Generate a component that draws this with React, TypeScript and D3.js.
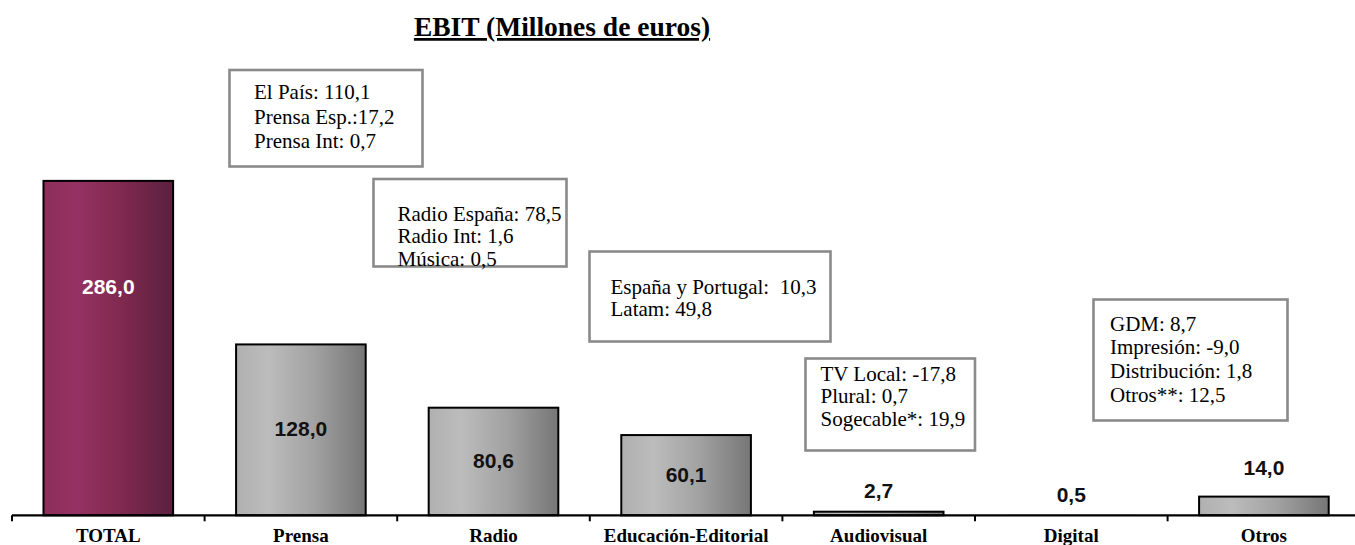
import React from 'react';
import * as d3 from 'd3';

const categories = ['TOTAL', 'Prensa', 'Radio', 'Educación-Editorial', 'Audiovisual', 'Digital', 'Otros'];
const ebitValues = [286.0, 128.0, 80.6, 60.1, 2.7, 0.5, 14.0];
// bar lengths as they are drawn in the picture (the TOTAL bar is drawn shorter than its value)
const barValues = [250.5, 128.0, 80.6, 60.1, 2.7, 0.5, 14.0];

const breakdownPrensa = ['El País: 110,1', 'Prensa Esp.:17,2', 'Prensa Int: 0,7'];
const breakdownRadio = ['Radio España: 78,5', 'Radio Int: 1,6', 'Música: 0,5'];
const breakdownEducacion = ['España y Portugal:  10,3', 'Latam: 49,8'];
const breakdownAudiovisual = ['TV Local: -17,8', 'Plural: 0,7', 'Sogecable*: 19,9'];
const breakdownOtros = ['GDM: 8,7', 'Impresión: -9,0', 'Distribución: 1,8', 'Otros**: 12,5'];

const title = 'EBIT (Millones de euros)';

const W = 1355;
const H = 545;
const AXIS_Y = 515.3;
const X0 = 12;
const STEP = 192.6;

const boxLayout = [
  { lines: breakdownPrensa, x: 229.5, y: 70, w: 193, h: 96.5, tx: 254, base: 99, lh: 24.6 },
  { lines: breakdownRadio, x: 373.5, y: 179, w: 193, h: 87.5, tx: 397.5, base: 220.5, lh: 22.6 },
  { lines: breakdownEducacion, x: 589.5, y: 251.5, w: 241, h: 90, tx: 610.5, base: 293.5, lh: 22.7 },
  { lines: breakdownAudiovisual, x: 805.5, y: 358.5, w: 169.5, h: 92, tx: 820.5, base: 380.5, lh: 22.6 },
  { lines: breakdownOtros, x: 1093.5, y: 299.5, w: 194, h: 121, tx: 1110, base: 330.5, lh: 23.7 },
];

const fmt = (v: number) => v.toFixed(1).replace('.', ',');

export default function App() {
  const x = d3
    .scaleBand<string>()
    .domain(categories)
    .range([X0, X0 + STEP * categories.length])
    .paddingInner(0.327)
    .paddingOuter(0.1635);
  const y = d3.scaleLinear().domain([0, 300]).range([AXIS_Y, AXIS_Y - 300 * 1.335]);
  const step = x.step();
  const bw = x.bandwidth();
  const ticks = d3.range(categories.length + 1).map((i) => X0 + i * step);

  const serif = '"Times New Roman", "Liberation Serif", serif';
  const sans = 'Arial, "Liberation Sans", sans-serif';

  return (
    <svg
      width={W}
      height={H}
      style={{ position: 'absolute', left: 0, top: 0, display: 'block', background: '#fff' }}
    >
      <defs>
        <linearGradient id="gGray" x1="0" x2="1" y1="0" y2="0">
          <stop offset="0" stopColor="#b0b0b0" />
          <stop offset="0.25" stopColor="#bcbcbc" />
          <stop offset="0.6" stopColor="#a2a2a2" />
          <stop offset="1" stopColor="#767676" />
        </linearGradient>
        <linearGradient id="gTotal" x1="0" x2="1" y1="0" y2="0">
          <stop offset="0" stopColor="#8c2e5a" />
          <stop offset="0.25" stopColor="#963263" />
          <stop offset="0.6" stopColor="#80294f" />
          <stop offset="1" stopColor="#5a2040" />
        </linearGradient>
      </defs>

      {/* title */}
      <text
        x={562}
        y={36}
        textAnchor="middle"
        fontFamily={serif}
        fontWeight="bold"
        fontSize={27.5}
        textDecoration="underline"
      >
        {title}
      </text>

      {/* bars */}
      {categories.map((c, i) => {
        const top = y(barValues[i]);
        const h = AXIS_Y - top;
        const thin = h < 2;
        return (
          <rect
            key={c}
            x={x(c)!}
            y={top}
            width={bw}
            height={h}
            fill={i === 0 ? 'url(#gTotal)' : thin ? '#cfcfcf' : 'url(#gGray)'}
            stroke={thin ? 'none' : '#000'}
            strokeWidth={2}
          />
        );
      })}

      {/* axis */}
      <line x1={X0} x2={W} y1={AXIS_Y} y2={AXIS_Y} stroke="#000" strokeWidth={2.2} />
      {ticks.map((t, i) => (
        <line key={i} x1={t} x2={t} y1={AXIS_Y} y2={AXIS_Y + 6} stroke="#000" strokeWidth={2} />
      ))}

      {/* category labels */}
      {categories.map((c) => (
        <text
          key={c}
          x={x(c)! + bw / 2}
          y={541.5}
          textAnchor="middle"
          fontFamily={serif}
          fontWeight="bold"
          fontSize={19}
        >
          {c}
        </text>
      ))}

      {/* value labels */}
      {categories.map((c, i) => {
        const top = y(barValues[i]);
        const inside = AXIS_Y - top > 40;
        let cy: number;
        if (i === 0) cy = top + 106;
        else if (inside) cy = (top + AXIS_Y) / 2 - 1;
        else cy = top - 20 - 0.62 * ebitValues[i];
        return (
          <text
            key={c}
            x={x(c)! + bw / 2}
            y={cy + 7.5}
            textAnchor="middle"
            fontFamily={sans}
            fontWeight="bold"
            fontSize={21}
            fill={i === 0 ? '#fff' : '#111'}
          >
            {fmt(ebitValues[i])}
          </text>
        );
      })}

      {/* breakdown boxes */}
      {boxLayout.map((b, k) => (
        <g key={k}>
          <rect x={b.x} y={b.y} width={b.w} height={b.h} fill="#fff" stroke="#8a8a8a" strokeWidth={2.6} />
          {b.lines.map((l, j) => (
            <text
              key={j}
              x={b.tx}
              y={b.base + j * b.lh}
              fontFamily={serif}
              fontSize={21}
              style={{ whiteSpace: 'pre' }}
            >
              {l}
            </text>
          ))}
        </g>
      ))}
    </svg>
  );
}
